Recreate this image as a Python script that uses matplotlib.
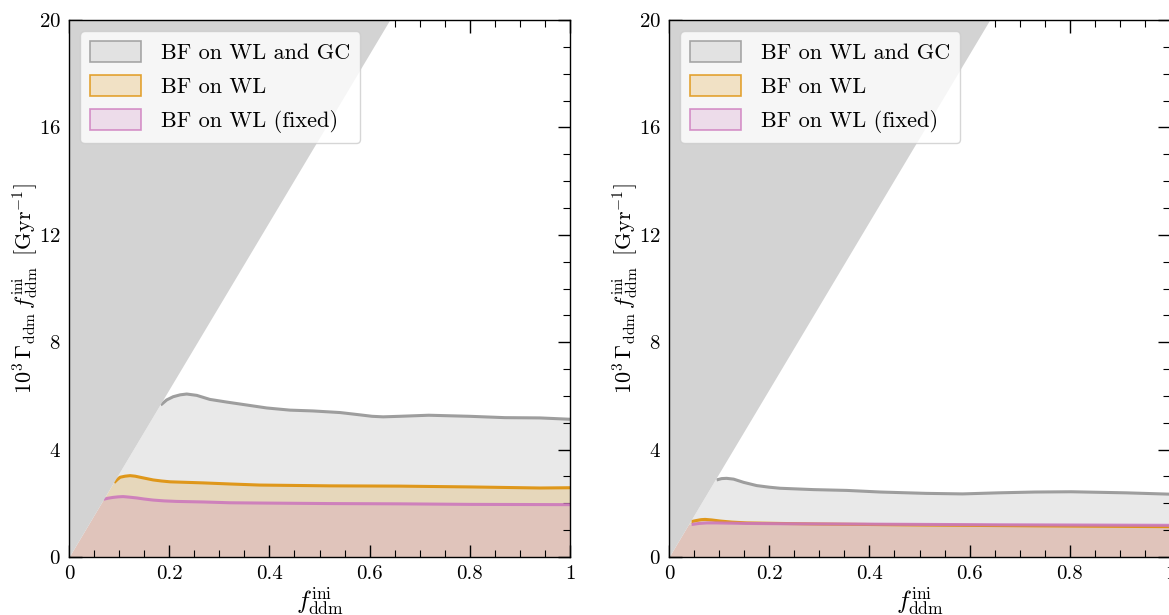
import numpy as np
import matplotlib
matplotlib.use("Agg")
import matplotlib.pyplot as plt
from matplotlib.patches import Patch
from matplotlib.ticker import MultipleLocator, FuncFormatter

plt.rcParams['font.family'] = 'serif'
plt.rcParams['font.serif'] = ['cmr10', 'DejaVu Serif']
plt.rcParams['mathtext.fontset'] = 'cm'
plt.rcParams['axes.unicode_minus'] = False
plt.rcParams['axes.formatter.use_mathtext'] = True

# ---- data ----
SLOPE = 31.25  # boundary of excluded (grey) region: y = SLOPE * x

# left panel
L_gc_x = [0.183, 0.195, 0.208, 0.222, 0.235, 0.255, 0.281, 0.315, 0.355, 0.395, 0.441, 0.487, 0.541,
          0.578, 0.605, 0.627, 0.66, 0.718, 0.80, 0.87, 0.94, 1.0]
L_gc_y = [5.66, 5.85, 5.97, 6.04, 6.07, 6.02, 5.87, 5.77, 5.66, 5.55, 5.47, 5.44, 5.38,
          5.30, 5.24, 5.22, 5.24, 5.28, 5.24, 5.19, 5.18, 5.13]
L_wl_x = [0.090, 0.096, 0.102, 0.112, 0.122, 0.132, 0.142, 0.155, 0.168, 0.185, 0.202, 0.268, 0.321,
          0.38, 0.52, 0.66, 0.80, 0.94, 1.0]
L_wl_y = [2.77, 2.88, 2.97, 3.01, 3.03, 3.01, 2.97, 2.92, 2.87, 2.83, 2.80, 2.76, 2.72,
          2.68, 2.65, 2.64, 2.61, 2.57, 2.58]
L_fx_x = [0.0685, 0.078, 0.088, 0.098, 0.108, 0.120, 0.135, 0.150, 0.168, 0.190, 0.215, 0.268, 0.321,
          0.38, 0.52, 0.66, 0.80, 1.0]
L_fx_y = [2.15, 2.19, 2.22, 2.24, 2.25, 2.23, 2.20, 2.16, 2.12, 2.09, 2.07, 2.05, 2.02,
          2.01, 1.99, 1.98, 1.96, 1.95]

# right panel
R_gc_x = [0.095, 0.105, 0.115, 0.129, 0.139, 0.149, 0.162, 0.175, 0.200, 0.222, 0.288, 0.355, 0.422,
          0.513, 0.586, 0.658, 0.73, 0.803, 0.912, 1.0]
R_gc_y = [2.87, 2.92, 2.93, 2.90, 2.84, 2.78, 2.72, 2.66, 2.60, 2.56, 2.51, 2.48, 2.42,
          2.37, 2.35, 2.39, 2.42, 2.43, 2.39, 2.34]
R_wl_x = [0.045, 0.055, 0.064, 0.072, 0.085, 0.102, 0.125, 0.155, 0.22, 0.295, 0.513, 0.73, 1.0]
R_wl_y = [1.32, 1.36, 1.39, 1.40, 1.38, 1.34, 1.30, 1.27, 1.25, 1.23, 1.19, 1.16, 1.13]
R_fx_x = [0.045, 0.060, 0.075, 0.095, 0.125, 0.155, 0.22, 0.44, 0.66, 1.0]
R_fx_y = [1.21, 1.25, 1.27, 1.27, 1.26, 1.25, 1.24, 1.22, 1.20, 1.18]

labels = ['BF on WL and GC', 'BF on WL', 'BF on WL (fixed)']
colors = ['#949494', '#DE8F05', '#CC78BC']

xticks = [0, 0.2, 0.4, 0.6, 0.8, 1.0]
yticks = [0, 4, 8, 12, 16, 20]

fig = plt.figure(figsize=(11.69, 6.15), dpi=100)
W, H = 1169.0, 615.0
ax1 = fig.add_axes([69 / W, (615 - 557) / H, 501 / W, 537 / H])
ax2 = fig.add_axes([669 / W, (615 - 557) / H, 501 / W, 537 / H])


def fmt(v, pos):
    if abs(v) < 1e-9:
        return '0'
    if abs(v - 1) < 1e-9:
        return '1'
    return '%g' % v


def draw(ax, series):
    # excluded region
    xt = np.linspace(0, 20 / SLOPE, 50)
    ax.fill_between(xt, SLOPE * xt, 20, color='#d3d3d3', lw=0, zorder=3)
    for (x, y), c in zip(series, colors):
        x = np.asarray(x); y = np.asarray(y)
        xf = np.r_[0, y[0] / SLOPE, x]
        yf = np.r_[0, y[0], y]
        ax.fill_between(xf, 0, yf, color=c, alpha=0.2, lw=0, zorder=1)
        ax.plot(x, y, color=c, lw=2.2, alpha=0.9, zorder=2, solid_capstyle='butt',
                solid_joinstyle='round')
    ax.set_xlim(0, 1)
    ax.set_ylim(0, 20)
    ax.set_xticks(xticks)
    ax.xaxis.set_major_formatter(FuncFormatter(fmt))
    ax.set_yticks(yticks)
    ax.xaxis.set_minor_locator(MultipleLocator(0.05))
    ax.yaxis.set_minor_locator(MultipleLocator(1))
    ax.tick_params(which='both', direction='in', top=True, right=True, labelsize=15)
    ax.tick_params(which='major', length=9, width=1.0, pad=6)
    ax.tick_params(which='minor', length=5, width=0.8)
    for sp in ax.spines.values():
        sp.set_linewidth(1.0)
        sp.set_zorder(5)
    ax.set_xlabel(r'$f_{\rm ddm}^{\rm ini}$', fontsize=18, labelpad=2)
    ax.set_ylabel(r'$10^3\,\Gamma_{\rm ddm}\,f_{\rm ddm}^{\rm ini}\;\;[{\rm Gyr}^{-1}]$',
                  fontsize=16, labelpad=-1)
    handles = [Patch(facecolor=matplotlib.colors.to_rgba(c, 0.2),
                     edgecolor=matplotlib.colors.to_rgba(c, 0.8), lw=1.2)
               for c in colors]
    leg = ax.legend(handles, labels, loc='upper left', fontsize=16, frameon=True,
                    handlelength=2.3, handleheight=1.05, borderpad=0.45, labelspacing=0.55,
                    handletextpad=0.9, borderaxespad=0.5)
    leg.set_zorder(10)


draw(ax1, [(L_gc_x, L_gc_y), (L_wl_x, L_wl_y), (L_fx_x, L_fx_y)])
draw(ax2, [(R_gc_x, R_gc_y), (R_wl_x, R_wl_y), (R_fx_x, R_fx_y)])

fig.savefig('out.png', dpi=100)
